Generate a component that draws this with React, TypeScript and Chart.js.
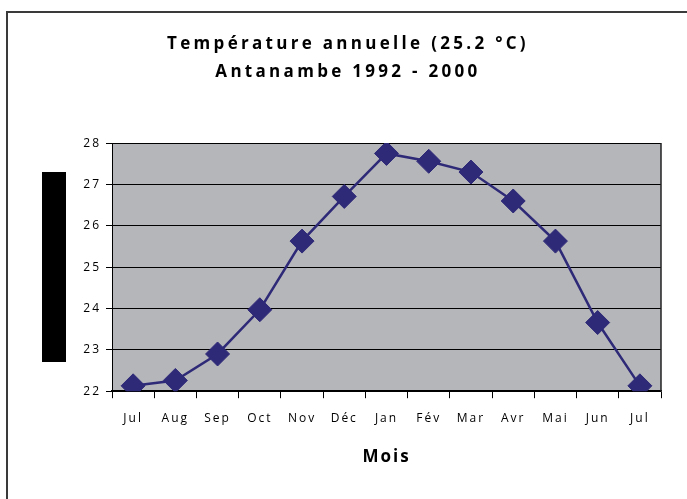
import React, { useEffect, useRef } from 'react';
import { Chart, registerables } from 'chart.js';

Chart.register(...registerables);

const months = ['Jul', 'Aug', 'Sep', 'Oct', 'Nov', 'Déc', 'Jan', 'Fév', 'Mar', 'Avr', 'Mai', 'Jun', 'Jul'];
const temperatures = [22.13, 22.26, 22.9, 23.97, 25.63, 26.71, 27.75, 27.56, 27.3, 26.6, 25.63, 23.66, 22.13];
const titleLines = ['Température annuelle (25.2 °C)', 'Antanambe 1992 - 2000'];
const xAxisTitle = 'Mois';
const yMin = 22;
const yMax = 28;
const yStep = 1;

const FONT = "'Open Sans', 'Noto Sans', sans-serif";
const LINE_COLOR = '#2f2a78';
const PLOT_BG = '#b5b6ba';

const decorPlugin = {
  id: 'decor',
  beforeDraw(chart: any) {
    const { ctx, chartArea: a } = chart;
    const tb = chart.titleBlock;
    if (tb && !tb.__spaced) {
      const orig = tb.draw.bind(tb);
      tb.draw = (...args: any[]) => {
        const prev = ctx.letterSpacing;
        ctx.letterSpacing = '3.3px';
        orig(...args);
        ctx.letterSpacing = prev;
      };
      tb.__spaced = true;
    }
    ctx.save();
    ctx.fillStyle = '#ffffff';
    ctx.fillRect(0, 0, chart.width, chart.height);
    ctx.strokeStyle = '#3a3a3a';
    ctx.lineWidth = 2;
    ctx.strokeRect(7, 12, chart.width + 20, chart.height + 20);
    ctx.fillStyle = PLOT_BG;
    ctx.fillRect(a.left, a.top, a.right - a.left, a.bottom - a.top);
    ctx.fillStyle = '#000000';
    ctx.fillRect(42, 172, 24, 190);
    ctx.restore();
    ctx.letterSpacing = '2px';
  },
  beforeDatasetsDraw(chart: any) {
    const { ctx, chartArea: a } = chart;
    ctx.save();
    ctx.strokeStyle = '#222';
    ctx.lineWidth = 1.5;
    ctx.beginPath();
    ctx.moveTo(a.right, a.top);
    ctx.lineTo(a.right, a.bottom);
    ctx.stroke();
    ctx.restore();
  },
  afterDraw(chart: any) {
    chart.ctx.letterSpacing = '0px';
  },
};

export default function App() {
  const ref = useRef<HTMLCanvasElement | null>(null);
  useEffect(() => {
    if (!ref.current) return;
    const chart = new Chart(ref.current, {
      type: 'line',
      data: {
        labels: months,
        datasets: [
          {
            data: temperatures,
            borderColor: LINE_COLOR,
            backgroundColor: LINE_COLOR,
            borderWidth: 2.5,
            pointStyle: 'rectRot',
            pointRadius: 12,
            pointBackgroundColor: LINE_COLOR,
            pointBorderColor: LINE_COLOR,
            pointBorderWidth: 1,
            tension: 0,
          },
        ],
      },
      options: {
        animation: false,
        responsive: false,
        devicePixelRatio: 1,
        layout: { padding: { left: 35, right: 26, top: 0, bottom: 32 } },
        plugins: {
          legend: { display: false },
          tooltip: { enabled: false },
          title: {
            display: true,
            text: titleLines,
            color: '#000',
            font: { family: FONT, size: 17, weight: 'bold', lineHeight: 1.65 },
            padding: { top: 30, bottom: 57 },
          },
        },
        scales: {
          x: {
            offset: true,
            grid: { offset: true, drawOnChartArea: false, tickLength: 7, color: '#000' },
            border: { color: '#000', width: 1.5 },
            ticks: { color: '#000', font: { family: FONT, size: 12 }, padding: 13, maxRotation: 0, autoSkip: false },
            title: {
              display: true,
              text: xAxisTitle,
              color: '#000',
              font: { family: FONT, size: 17, weight: 'bold' },
              padding: { top: 8, bottom: 0 },
            },
          },
          y: {
            min: yMin,
            max: yMax,
            ticks: { stepSize: yStep, color: '#000', font: { family: FONT, size: 12 }, padding: 5 },
            grid: { color: '#000', tickLength: 6 },
            border: { color: '#000', width: 1 },
            afterFit(s: any) {
              s.width = 77;
            },
          },
        },
      },
      plugins: [decorPlugin],
    });
    return () => chart.destroy();
  }, []);
  return (
    <div style={{ position: 'fixed', left: 0, top: 0, width: 687, height: 499, background: '#fff' }}>
      <canvas ref={ref} width={687} height={499} />
    </div>
  );
}
